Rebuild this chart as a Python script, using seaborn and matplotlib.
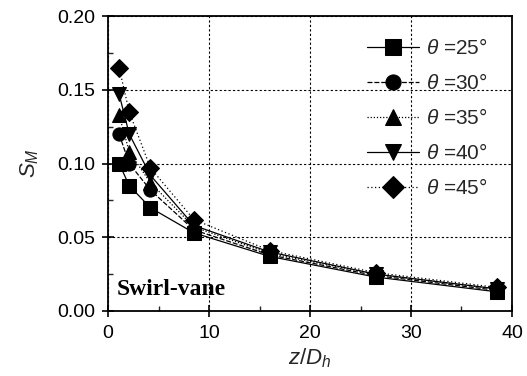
import numpy as np
import pandas as pd
import matplotlib
matplotlib.use("Agg")
import matplotlib.pyplot as plt
import seaborn as sns
from matplotlib.ticker import MultipleLocator

x_vals = [1.1, 2.1, 4.2, 8.5, 16.0, 26.5, 38.5]
s25 = [0.100, 0.085, 0.070, 0.053, 0.037, 0.023, 0.013]
s30 = [0.120, 0.100, 0.082, 0.055, 0.038, 0.024, 0.014]
s35 = [0.133, 0.108, 0.087, 0.057, 0.039, 0.025, 0.015]
s40 = [0.147, 0.120, 0.092, 0.058, 0.040, 0.025, 0.015]
s45 = [0.165, 0.135, 0.097, 0.062, 0.041, 0.026, 0.016]
labels = [r"$\theta$ =25°", r"$\theta$ =30°", r"$\theta$ =35°", r"$\theta$ =40°", r"$\theta$ =45°"]
series = [s25, s30, s35, s40, s45]

rows = []
for lab, ys in zip(labels, series):
    for xv, yv in zip(x_vals, ys):
        rows.append({"x": xv, "y": yv, "angle": lab})
df = pd.DataFrame(rows)

sns.set_style("ticks")
plt.rcParams['font.family'] = ['Liberation Sans', 'DejaVu Sans']
plt.rcParams['mathtext.fontset'] = 'custom'
plt.rcParams['mathtext.it'] = 'Liberation Sans:italic'
plt.rcParams['mathtext.rm'] = 'Liberation Sans'

fig = plt.figure(figsize=(5.27, 3.76), dpi=100)
ax = fig.add_axes([0.205, 0.173, 0.7665, 0.784])

markers = {l: m for l, m in zip(labels, ['s', 'o', '^', 'v', 'D'])}
dashes = {labels[0]: "", labels[1]: (4, 1.5), labels[2]: (1, 1.5), labels[3]: "", labels[4]: (1, 2)}
palette = {l: 'black' for l in labels}

sns.lineplot(data=df, x="x", y="y", hue="angle", style="angle", markers=markers,
             dashes=dashes, palette=palette, ax=ax, linewidth=0.9,
             markersize=9.5, markeredgecolor='black', legend=True)

ax.set_xlim(0, 40)
ax.set_ylim(0, 0.20)
ax.xaxis.set_major_locator(MultipleLocator(10))
ax.xaxis.set_minor_locator(MultipleLocator(5))
ax.yaxis.set_major_locator(MultipleLocator(0.05))
ax.yaxis.set_minor_locator(MultipleLocator(0.025))
ax.yaxis.set_major_formatter(matplotlib.ticker.FormatStrFormatter('%.2f'))
ax.grid(True, which='major', linestyle=(0, (2, 2)), color='black', linewidth=0.8)

for sp in ax.spines.values():
    sp.set_visible(True)
    sp.set_color('black')
    sp.set_linewidth(1.3)

ax.tick_params(axis='both', which='major', direction='inout', length=8, width=1.2,
               labelsize=14, colors='black', top=False, right=False)
ax.tick_params(axis='y', which='major', pad=5)
ax.tick_params(axis='x', which='major', pad=6)
ax.tick_params(axis='both', which='minor', direction='in', length=3.5, width=1.0,
               top=False, right=False)

ax.set_xlabel(r"$z/D_h$", fontsize=16, labelpad=3)
ax.set_ylabel(r"$S_M$", fontsize=16, labelpad=12)

ax.text(0.9, 0.011, "Swirl-vane", fontfamily='Liberation Serif', fontweight='bold',
        fontsize=17, color='black')

leg = ax.legend(loc='upper right', frameon=False, fontsize=15, handlelength=2.5,
                labelspacing=0.72, bbox_to_anchor=(0.985, 0.99), handletextpad=0.3,
                markerscale=1.15)

fig.savefig("out.png", dpi=100)
